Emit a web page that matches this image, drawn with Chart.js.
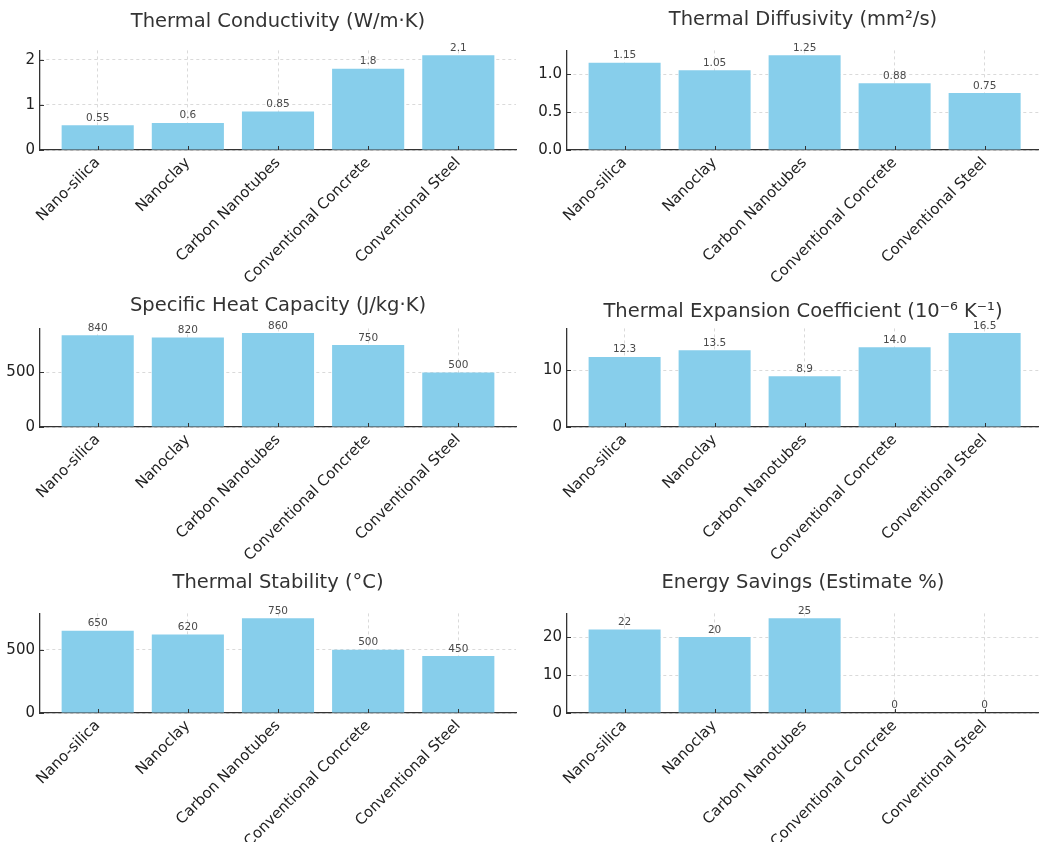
<!DOCTYPE html>
<html>
<head>
<meta charset="utf-8">
<script src="https://cdn.jsdelivr.net/npm/chart.js@4/dist/chart.umd.min.js"></script>
<style>
  body { margin: 0; background: #fff; }
  #wrap { position: relative; width: 1039px; height: 842px; overflow: hidden; }
  canvas { position: absolute; }
</style>
</head>
<body>
<div id="wrap">
  <canvas id="c1" width="520" height="300" style="left:0;top:0"></canvas>
  <canvas id="c2" width="519" height="300" style="left:520px;top:0"></canvas>
  <canvas id="c3" width="520" height="300" style="left:0;top:280px"></canvas>
  <canvas id="c4" width="519" height="300" style="left:520px;top:280px"></canvas>
  <canvas id="c5" width="520" height="282" style="left:0;top:560px"></canvas>
  <canvas id="c6" width="519" height="282" style="left:520px;top:560px"></canvas>
</div>
<script>
// data
const materials = ["Nano-silica", "Nanoclay", "Carbon Nanotubes", "Conventional Concrete", "Conventional Steel"];

const conductivity = [0.55, 0.6, 0.85, 1.8, 2.1];
const diffusivity = [1.15, 1.05, 1.25, 0.88, 0.75];
const heatCapacity = [840, 820, 860, 750, 500];
const expansion = [12.3, 13.5, 8.9, 14.0, 16.5];
const stability = [650, 620, 750, 500, 450];
const savings = [22, 20, 25, 0, 0];

const titles = [
  "Thermal Conductivity (W/m·K)",
  "Thermal Diffusivity (mm²/s)",
  "Specific Heat Capacity (J/kg·K)",
  "Thermal Expansion Coefficient (10⁻⁶ K⁻¹)",
  "Thermal Stability (°C)",
  "Energy Savings (Estimate %)"
];
// y tick values for each panel
const yTicks1 = [0, 1, 2];
const yTicks2 = [0, 0.5, 1.0];
const yTicks3 = [0, 500];
const yTicks4 = [0, 10];
const yTicks5 = [0, 500];
const yTicks6 = [0, 10, 20];

const barColor = "#87CEEB";
const font = "'DejaVu Sans', sans-serif";

// panel layout (canvases of rows 1-2 are 20px taller so long labels aren't cut)
const panels = [
  {id: "c1", values: conductivity, ticks: yTicks1, lblDec: null, yDec: 0, padTop: 10, padBot: 17, yW: 40, xMax: 4.64, right: 4, xH: 150},
  {id: "c2", values: diffusivity, ticks: yTicks2, lblDec: null, yDec: 1, padTop: 8, padBot: 19, yW: 47, xMax: 4.604, right: 0, xH: 150},
  {id: "c3", values: heatCapacity, ticks: yTicks3, lblDec: null, yDec: 0, padTop: 14, padBot: 11, yW: 40, xMax: 4.64, right: 4, xH: 153},
  {id: "c4", values: expansion, ticks: yTicks4, lblDec: 1, yDec: 0, padTop: 20, padBot: 5, yW: 47, xMax: 4.604, right: 0, xH: 153},
  {id: "c5", values: stability, ticks: yTicks5, lblDec: null, yDec: 0, padTop: 11, padBot: 19, yW: 40, xMax: 4.64, right: 4, xH: 129},
  {id: "c6", values: savings, ticks: yTicks6, lblDec: null, yDec: 0, padTop: 11, padBot: 19, yW: 47, xMax: 4.604, right: 0, xH: 129}
];

// value labels above bars + inward tick marks
const barLabels = {
  id: "barLabels",
  afterDraw(chart) {
    const ctx = chart.ctx;
    const p = chart.options.plugins.barLabels;
    const meta = chart.getDatasetMeta(0);
    const vals = chart.data.datasets[0].data;
    ctx.save();
    ctx.font = "10.5px " + font;
    ctx.fillStyle = "#4a4a4a";
    ctx.textAlign = "center";
    ctx.textBaseline = "bottom";
    meta.data.forEach((bar, i) => {
      let v = vals[i].y;
      let txt = p.dec == null ? String(v) : v.toFixed(p.dec);
      ctx.fillText(txt, bar.x, bar.y - 2);
    });
    // small ticks pointing inwards
    const xs = chart.scales.x, ys = chart.scales.y;
    ctx.strokeStyle = "#333";
    ctx.lineWidth = 1;
    ctx.beginPath();
    xs.ticks.forEach(t => {
      const px = Math.round(xs.getPixelForValue(t.value)) + 0.5;
      ctx.moveTo(px, ys.bottom);
      ctx.lineTo(px, ys.bottom - 4);
    });
    ys.ticks.forEach(t => {
      const py = Math.round(ys.getPixelForValue(t.value)) + 0.5;
      ctx.moveTo(xs.left, py);
      ctx.lineTo(xs.left + 4, py);
    });
    ctx.stroke();
    ctx.restore();
  }
};

panels.forEach((p, k) => {
  const pts = p.values.map((v, i) => ({x: i, y: v}));
  const yMax = Math.max(...p.values) * 1.05; // 5% headroom like matplotlib
  new Chart(document.getElementById(p.id), {
    type: "bar",
    data: {
      datasets: [{
        data: pts,
        backgroundColor: barColor,
        borderWidth: 0,
        barPercentage: 0.8,
        categoryPercentage: 1.0
      }]
    },
    options: {
      responsive: false,
      animation: false,
      layout: {padding: {left: 0, right: p.right, top: 0, bottom: 0}},
      plugins: {
        legend: {display: false},
        tooltip: {enabled: false},
        title: {
          display: true,
          fullSize: false,
          text: titles[k],
          color: "#333",
          font: {family: font, size: 19.5, weight: "normal", lineHeight: 1.2},
          padding: {top: p.padTop, bottom: p.padBot}
        },
        barLabels: {dec: p.lblDec}
      },
      scales: {
        x: {
          type: "linear",
          min: -0.64,
          max: p.xMax,
          offset: false,
          z: 1,
          afterFit: s => { s.height = p.xH; },
          afterBuildTicks: s => { s.ticks = materials.map((m, i) => ({value: i})); },
          ticks: {
            autoSkip: false,
            minRotation: 45,
            maxRotation: 45,
            padding: 4,
            color: "#222",
            font: {family: font, size: 15},
            callback: v => materials[v] || ""
          },
          grid: {offset: false, color: "rgba(150,150,150,0.35)", lineWidth: 1, drawTicks: false},
          border: {display: true, color: "#333", width: 1.3, dash: [3, 3]}
        },
        y: {
          min: 0,
          max: yMax,
          z: 1,
          afterFit: s => { s.width = p.yW; },
          afterBuildTicks: s => { s.ticks = p.ticks.map(v => ({value: v})); },
          ticks: {
            padding: 5,
            color: "#222",
            font: {family: font, size: 15},
            callback: v => v.toFixed(p.yDec)
          },
          grid: {color: "rgba(150,150,150,0.35)", lineWidth: 1, drawTicks: false},
          border: {display: true, color: "#333", width: 1.3, dash: [3, 3]}
        }
      }
    },
    plugins: [barLabels]
  });
});
</script>
</body>
</html>
